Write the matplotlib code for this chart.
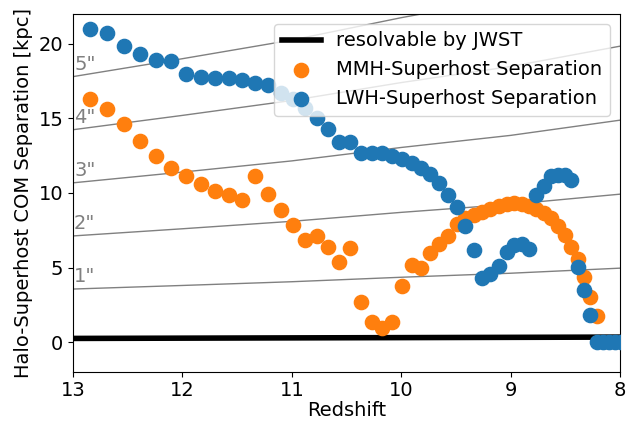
import matplotlib
matplotlib.use("Agg")
import matplotlib.pyplot as plt
import numpy as np

# redshift grid of snapshots
redshift = [12.84, 12.685, 12.535, 12.386, 12.24, 12.103, 11.966, 11.829, 11.701, 11.574,
            11.454, 11.333, 11.22, 11.10, 10.99, 10.88, 10.77, 10.67, 10.565, 10.465,
            10.365, 10.27, 10.177, 10.085, 9.995, 9.905, 9.818, 9.736, 9.653, 9.571,
            9.492, 9.413, 9.337, 9.26, 9.185, 9.11, 9.037, 8.968, 8.895, 8.828,
            8.764, 8.697, 8.634, 8.57, 8.505, 8.444, 8.385, 8.328, 8.27, 8.21,
            8.155, 8.10, 8.045, 7.99]

mmh_sep = [16.28, 15.65, 14.65, 13.51, 12.47, 11.67, 11.13, 10.61, 10.16, 9.86,
           9.54, 11.13, 9.93, 8.84, 7.84, 6.87, 7.14, 6.35, 5.35, 6.31,
           2.72, 1.35, 0.95, 1.35, 3.78, 5.16, 4.98, 5.96, 6.58, 7.10,
           7.91, 8.30, 8.55, 8.75, 8.95, 9.16, 9.29, 9.34, 9.25, 9.12,
           8.95, 8.64, 8.32, 7.78, 7.21, 6.41, 5.55, 4.37, 3.04, 1.77,
           np.nan, np.nan, np.nan, np.nan]

lwh_sep = [21.0, 20.75, 19.85, 19.3, 18.9, 18.85, 18.0, 17.75, 17.72, 17.72,
           17.6, 17.4, 17.25, 16.73, 16.33, 15.71, 15.03, 14.29, 13.45, 13.45,
           12.7, 12.7, 12.68, 12.5, 12.25, 12.02, 11.65, 11.27, 10.66, 9.88,
           9.03, 7.77, 6.19, 4.3, 4.55, 5.12, 6.05, 6.5, 6.55, 6.25,
           9.86, 10.5, 11.15, 11.18, 11.18, 10.85, 5.02, 3.52, 1.80, 0.0,
           0.0, 0.0, 0.0, 0.0]

# physical kpc per arcsec at these redshifts
scale_z = [13, 12, 11, 10, 9, 8]
kpc_per_arcsec = [3.56, 3.80, 4.05, 4.35, 4.62, 4.96]
arcsec_levels = [1, 2, 3, 4, 5]
arcsec_labels = ['1"', '2"', '3"', '4"', '5"']

# JWST resolution limit in kpc
jwst_z = [13, 8]
jwst_kpc = [0.25, 0.34]

plt.rcParams['font.size'] = 14

fig = plt.figure(figsize=(6.26, 4.23), dpi=100)
ax = fig.add_axes([0.1166, 0.1206, 0.8738, 0.8464])

zz = np.array(scale_z, dtype=float)
kk = np.array(kpc_per_arcsec)
for n, lab in zip(arcsec_levels, arcsec_labels):
    ax.plot(zz, n * kk, color='gray', lw=1, zorder=1)
    ax.text(12.99, n * kk[0] + 0.2, lab, color='gray', ha='left', va='bottom',
            fontsize=14, zorder=1)

ax.plot(jwst_z, jwst_kpc, color='black', lw=4, label='resolvable by JWST', zorder=2)
ax.scatter(redshift, mmh_sep, s=105, color='#ff7f0e', label='MMH-Superhost Separation', zorder=3)
ax.scatter(redshift, lwh_sep, s=105, color='#1f77b4', label='LWH-Superhost Separation', zorder=4)

ax.set_xlim(13, 8)
ax.set_ylim(-2, 22)
ax.set_xticks([13, 12, 11, 10, 9, 8])
ax.set_yticks([0, 5, 10, 15, 20])
ax.tick_params(axis='x', pad=3)
ax.set_xlabel('Redshift', labelpad=1)
ax.set_ylabel('Halo-Superhost COM Separation [kpc]')
ax.legend(loc='upper right', fontsize=14)

fig.savefig('out.png', dpi=100)
